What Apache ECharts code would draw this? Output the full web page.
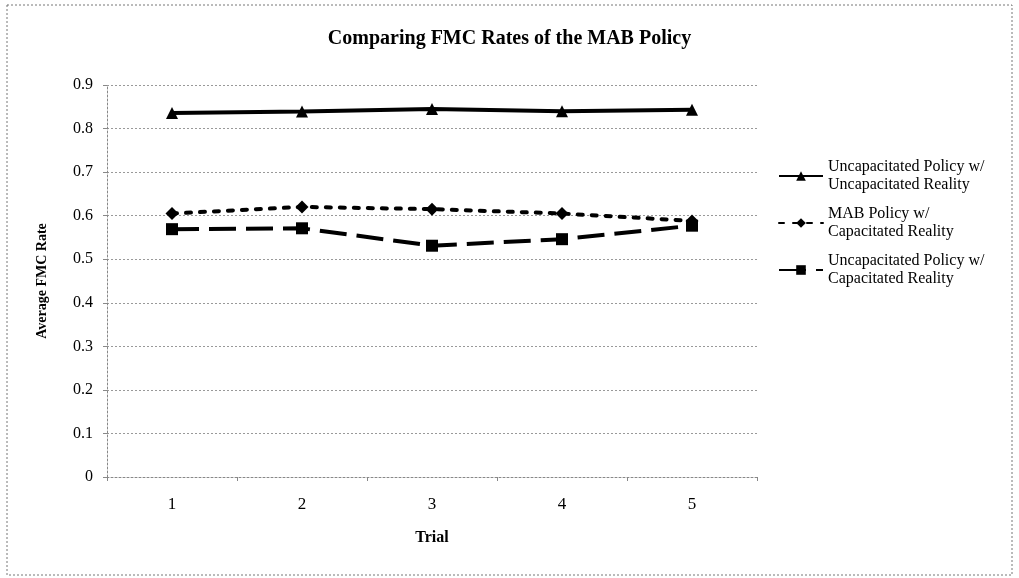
<!DOCTYPE html>
<html>
<head>
<meta charset="utf-8">
<script src="https://cdn.jsdelivr.net/npm/echarts@6/dist/echarts.min.js"></script>
<style>
  html, body { margin: 0; padding: 0; background: #fff; }
  #chart { width: 1019px; height: 578px; }
</style>
</head>
<body>
<div id="chart"></div>
<script>
// Trials on the x axis
const trials = ['1', '2', '3', '4', '5'];

// Average FMC rate per trial for each policy / reality pairing
const uncapPolicyUncapReality = [0.836, 0.839, 0.845, 0.840, 0.843];
const mabPolicyCapReality     = [0.605, 0.620, 0.615, 0.605, 0.588];
const uncapPolicyCapReality   = [0.569, 0.571, 0.531, 0.546, 0.577];

const seriesNames = [
  'Uncapacitated Policy w/\nUncapacitated Reality',
  'MAB Policy w/\nCapacitated Reality',
  'Uncapacitated Policy w/\nCapacitated Reality'
];

const serif = "'Liberation Serif', 'DejaVu Serif', serif";
const chart = echarts.init(document.getElementById('chart'), null, { renderer: 'canvas' });

chart.setOption({
  backgroundColor: '#ffffff',
  animation: false,
  title: {
    text: 'Comparing FMC Rates of the MAB Policy',
    left: 'center',
    top: 24,
    textStyle: { fontFamily: serif, fontSize: 20, fontWeight: 'bold', color: '#000' }
  },
  // dotted frame around the whole chart
  graphic: [{
    type: 'rect',
    shape: { x: 7, y: 5, width: 1005, height: 570 },
    style: { fill: 'none', stroke: '#777', lineWidth: 1, lineDash: [2, 2] },
    silent: true
  }],
  legend: {
    orient: 'vertical',
    left: 773,
    top: 153,
    itemWidth: 44,
    itemHeight: 12,
    itemGap: 11,
    textStyle: { fontFamily: serif, fontSize: 16, color: '#000', lineHeight: 18 },
    data: seriesNames
  },
  grid: { left: 107, right: 262, top: 85, bottom: 101, containLabel: false },
  xAxis: {
    type: 'category',
    data: trials,
    boundaryGap: true,
    name: 'Trial',
    nameLocation: 'middle',
    nameGap: 53,
    nameTextStyle: { fontFamily: serif, fontSize: 16, fontWeight: 'bold', color: '#000' },
    axisLine: { lineStyle: { color: '#888', type: [2, 2], width: 1 } },
    axisTick: { show: true, alignWithLabel: false, length: 4, lineStyle: { color: '#888' } },
    axisLabel: { fontFamily: serif, fontSize: 17, color: '#000', margin: 19 }
  },
  yAxis: {
    type: 'value',
    min: 0,
    max: 0.9,
    interval: 0.1,
    name: 'Average FMC Rate',
    nameLocation: 'middle',
    nameRotate: 90,
    nameGap: 58,
    nameTextStyle: { fontFamily: serif, fontSize: 14, fontWeight: 'bold', color: '#000' },
    axisLine: { show: true, lineStyle: { color: '#888', type: [2, 2], width: 1 } },
    axisTick: { show: true, length: 4, lineStyle: { color: '#888' } },
    axisLabel: { fontFamily: serif, fontSize: 16, color: '#000', margin: 14,
                 formatter: v => (v === 0 ? '0' : v.toFixed(1)) },
    splitLine: { show: true, lineStyle: { color: '#999', type: [2, 2], width: 1 } }
  },
  series: [
    {
      name: seriesNames[0],
      type: 'line',
      data: uncapPolicyUncapReality,
      symbol: 'triangle',
      symbolSize: 12,
      lineStyle: { color: '#000', width: 4, type: 'solid' },
      itemStyle: { color: '#000' }
    },
    {
      name: seriesNames[1],
      type: 'line',
      data: mabPolicyCapReality,
      symbol: 'diamond',
      symbolSize: 13,
      lineStyle: { color: '#000', width: 4, type: [5, 9], cap: 'round' },
      itemStyle: { color: '#000' }
    },
    {
      name: seriesNames[2],
      type: 'line',
      data: uncapPolicyCapReality,
      symbol: 'rect',
      symbolSize: 12,
      lineStyle: { color: '#000', width: 4, type: [27, 10] },
      itemStyle: { color: '#000' }
    }
  ]
});
</script>
</body>
</html>
